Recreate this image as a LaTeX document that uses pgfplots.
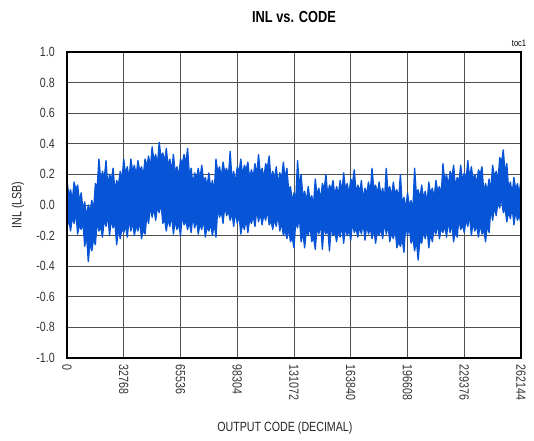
\documentclass[border=0pt]{standalone}
\usepackage{fontspec}
\setmainfont{Liberation Sans}[FakeStretch=0.8]
\usepackage{pgfplots}
\usepackage{pgfplotstable}
\pgfplotsset{compat=1.18}
\usepgfplotslibrary{fillbetween}

\definecolor{inlblue}{RGB}{8,84,214}
\definecolor{gridgray}{RGB}{80,80,80}

% upper and lower edge of the INL trace (peaks and notches)
\pgfplotstableread{
x hi lo
0 0.16 -0.15
1024 0.06 -0.09
2048 0.10 -0.17
3072 0.03 -0.08
4096 0.15 -0.12
5120 0.10 -0.05
6144 0.13 -0.19
7168 0.02 -0.13
8192 0.08 -0.16
9216 -0.03 -0.11
10240 0.02 -0.27
11264 -0.08 -0.19
12288 0.00 -0.37
13312 -0.04 -0.24
14336 0.03 -0.30
15360 -0.04 -0.22
16384 0.14 -0.26
17408 0.11 -0.10
18432 0.30 -0.17
19456 0.16 -0.14
20480 0.22 -0.21
21504 0.17 -0.09
22528 0.29 -0.14
23552 0.12 -0.06
24576 0.20 -0.20
25600 0.16 -0.09
26624 0.24 -0.15
27648 0.09 -0.11
28672 0.16 -0.26
29696 0.13 -0.15
30720 0.22 -0.22
31744 0.16 -0.15
32768 0.30 -0.18
33792 0.20 -0.13
34816 0.25 -0.21
35840 0.17 -0.09
36864 0.30 -0.17
37888 0.22 -0.11
38912 0.26 -0.20
39936 0.19 -0.13
40960 0.29 -0.17
41984 0.22 -0.10
43008 0.25 -0.22
44032 0.19 -0.16
45056 0.30 -0.19
46080 0.25 -0.07
47104 0.32 -0.12
48128 0.24 0.00
49152 0.38 -0.08
50176 0.29 -0.02
51200 0.33 -0.10
52224 0.26 -0.01
53248 0.41 -0.05
54272 0.31 0.02
55296 0.34 -0.12
56320 0.28 -0.09
57344 0.37 -0.17
58368 0.25 -0.09
59392 0.30 -0.14
60416 0.22 -0.06
61440 0.33 -0.19
62464 0.21 -0.10
63488 0.25 -0.16
64512 0.18 -0.12
65536 0.30 -0.20
66560 0.27 -0.06
67584 0.33 -0.13
68608 0.27 -0.10
69632 0.37 -0.16
70656 0.19 -0.11
71680 0.24 -0.18
72704 0.13 -0.07
73728 0.21 -0.15
74752 0.17 -0.09
75776 0.24 -0.19
76800 0.17 -0.12
77824 0.26 -0.16
78848 0.15 -0.09
79872 0.18 -0.21
80896 0.12 -0.14
81920 0.21 -0.17
82944 0.11 -0.12
83968 0.16 -0.20
84992 0.08 -0.12
86016 0.30 -0.21
87040 0.21 -0.02
88064 0.25 -0.08
89088 0.18 -0.04
90112 0.28 -0.12
91136 0.21 0.00
92160 0.24 -0.07
93184 0.18 -0.04
94208 0.35 -0.10
95232 0.17 -0.05
96256 0.22 -0.14
97280 0.14 -0.04
98304 0.25 -0.12
99328 0.21 -0.06
100352 0.30 -0.19
101376 0.19 -0.12
102400 0.26 -0.16
103424 0.23 -0.09
104448 0.28 -0.18
105472 0.17 -0.09
106496 0.23 -0.12
107520 0.18 -0.07
108544 0.27 -0.14
109568 0.19 -0.03
110592 0.33 -0.11
111616 0.20 -0.05
112640 0.24 -0.13
113664 0.17 -0.06
114688 0.27 -0.10
115712 0.24 -0.03
116736 0.32 -0.13
117760 0.16 -0.10
118784 0.22 -0.16
119808 0.17 -0.09
120832 0.25 -0.14
121856 0.13 -0.06
122880 0.21 -0.17
123904 0.17 -0.11
124928 0.28 -0.20
125952 0.17 -0.16
126976 0.24 -0.22
128000 0.09 -0.15
129024 0.12 -0.24
130048 0.02 -0.21
131072 0.08 -0.28
132096 0.03 -0.10
133120 0.29 -0.15
134144 0.12 -0.07
135168 0.20 -0.24
136192 0.05 -0.18
137216 0.09 -0.28
138240 0.02 -0.16
139264 0.12 -0.20
140288 0.03 -0.13
141312 0.06 -0.24
142336 0.00 -0.21
143360 0.17 -0.29
144384 0.06 -0.14
145408 0.11 -0.19
146432 0.03 -0.11
147456 0.14 -0.29
148480 0.10 -0.13
149504 0.20 -0.19
150528 0.06 -0.15
151552 0.13 -0.30
152576 0.10 -0.13
153600 0.16 -0.20
154624 0.06 -0.17
155648 0.12 -0.24
156672 0.07 -0.16
157696 0.16 -0.21
158720 0.08 -0.13
159744 0.21 -0.25
160768 0.10 -0.14
161792 0.14 -0.20
162816 0.07 -0.16
163840 0.17 -0.23
164864 0.14 -0.11
165888 0.23 -0.18
166912 0.07 -0.15
167936 0.13 -0.21
168960 0.08 -0.14
169984 0.16 -0.19
171008 0.03 -0.11
172032 0.11 -0.23
173056 0.07 -0.13
174080 0.15 -0.19
175104 0.08 -0.15
176128 0.24 -0.22
177152 0.10 -0.15
178176 0.13 -0.25
179200 0.07 -0.17
180224 0.15 -0.20
181248 0.06 -0.15
182272 0.11 -0.22
183296 0.03 -0.11
184320 0.24 -0.19
185344 0.08 -0.13
186368 0.12 -0.24
187392 0.05 -0.18
188416 0.15 -0.22
189440 0.07 -0.15
190464 0.10 -0.28
191488 0.04 -0.24
192512 0.20 -0.27
193536 0.00 -0.22
194560 0.05 -0.31
195584 -0.03 -0.12
196608 0.08 -0.20
197632 -0.01 -0.14
198656 0.03 -0.25
199680 -0.04 -0.21
200704 0.24 -0.30
201728 0.07 -0.23
202752 0.10 -0.36
203776 0.04 -0.22
204800 0.13 -0.25
205824 0.04 -0.17
206848 0.09 -0.22
207872 0.01 -0.14
208896 0.15 -0.28
209920 0.07 -0.18
210944 0.11 -0.24
211968 0.04 -0.15
212992 0.16 -0.19
214016 0.09 -0.12
215040 0.12 -0.22
216064 0.06 -0.15
217088 0.27 -0.18
218112 0.15 -0.13
219136 0.20 -0.21
220160 0.12 -0.10
221184 0.22 -0.18
222208 0.18 -0.12
223232 0.26 -0.24
224256 0.11 -0.17
225280 0.18 -0.21
226304 0.15 -0.09
227328 0.26 -0.16
228352 0.15 -0.13
229376 0.21 -0.18
230400 0.16 -0.09
231424 0.29 -0.14
232448 0.17 -0.06
233472 0.25 -0.20
234496 0.16 -0.11
235520 0.20 -0.17
236544 0.13 -0.13
237568 0.23 -0.21
238592 0.20 -0.12
239616 0.25 -0.19
240640 0.08 -0.16
241664 0.14 -0.24
242688 0.09 -0.13
243712 0.17 -0.18
244736 0.09 -0.02
245760 0.26 -0.10
246784 0.18 -0.01
247808 0.22 -0.07
248832 0.15 0.02
249856 0.31 -0.02
250880 0.28 0.05
251904 0.36 -0.05
252928 0.21 -0.02
253952 0.27 -0.11
254976 0.10 -0.04
256000 0.15 -0.09
257024 0.07 -0.01
258048 0.18 -0.13
259072 0.10 -0.04
260096 0.14 -0.10
261120 0.07 -0.06
262144 0.17 -0.13
}\inldata

\begin{document}
\begin{tikzpicture}
\begin{axis}[
    scale only axis,
    width=340.5pt,
    height=229.5pt,
    xmin=0, xmax=262144,
    ymin=-1, ymax=1,
    scaled x ticks=false,
    xtick={0,32768,65536,98304,131072,163840,196608,229376,262144},
    xticklabels={0,32768,65536,98304,131072,163840,196608,229376,262144},
    ytick={-1,-0.8,-0.6,-0.4,-0.2,0,0.2,0.4,0.6,0.8,1},
    yticklabels={-1.0,-0.8,-0.6,-0.4,-0.2,0.0,0.2,0.4,0.6,0.8,1.0},
    grid=major,
    major grid style={gridgray, line width=0.7pt},
    major tick length=0pt,
    tick label style={font=\fontsize{10}{12}\selectfont, text=black!80},
    xticklabel style={rotate=-90, anchor=west, inner sep=0pt},
    xticklabel shift=5pt,
    yticklabel style={anchor=east, inner sep=0pt},
    yticklabel shift=9pt,
    xlabel={OUTPUT CODE (DECIMAL)},
    xlabel style={at={(axis description cs:0.48,-0.229)}, anchor=center,
        font=\fontsize{10}{12}\selectfont, text=black!85},
    ylabel={INL (LSB)},
    ylabel style={at={(axis description cs:-0.108,0.5)}, anchor=center,
        font=\fontsize{10}{12}\selectfont, text=black!85},
]
\addplot[name path=hi, draw=inlblue, line width=1pt, line join=round] table[x=x, y=hi] {\inldata};
\addplot[name path=lo, draw=inlblue, line width=1pt, line join=round] table[x=x, y=lo] {\inldata};
\addplot[fill=inlblue, draw=none] fill between[of=hi and lo];
\end{axis}
% heavy plot frame
\draw[line width=1.6pt] (current axis.south west) rectangle (current axis.north east);
\node[font=\bfseries\fontsize{12}{14}\selectfont] at ([yshift=26pt]current axis.north) {INL vs. CODE};
\node[font=\fontsize{7}{8}\selectfont, anchor=south east, inner sep=0pt]
    at ([xshift=4pt,yshift=4pt]current axis.north east) {toc1};
\pgfresetboundingbox
\path ([shift={(-50.25pt,-62.25pt)}]current axis.south west)
    rectangle ([shift={(9.75pt,39pt)}]current axis.north east);
\end{tikzpicture}
\end{document}
